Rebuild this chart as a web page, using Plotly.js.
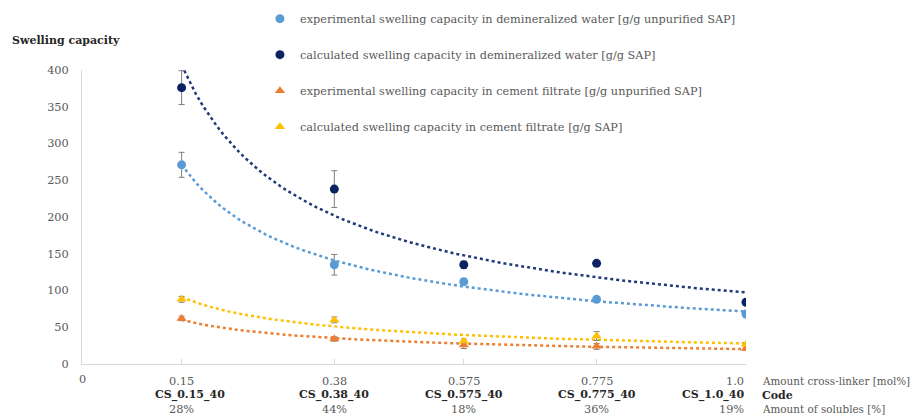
<!DOCTYPE html>
<html>
<head>
<meta charset="utf-8">
<script src="https://cdn.plot.ly/plotly-3.0.1.min.js"></script>
<style>html,body{margin:0;padding:0;background:#fff;}#chart{width:920px;height:417px;}</style>
</head>
<body>
<div id="chart"></div>
<script>
// ---- data ----
const crossLinker = [0.15, 0.38, 0.575, 0.775, 1.0];
const crossLinkerLabels = ["0.15", "0.38", "0.575", "0.775", "1.0"];
const codes = ["CS_0.15_40", "CS_0.38_40", "CS_0.575_40", "CS_0.775_40", "CS_1.0_40"];
const solubles = ["28%", "44%", "18%", "36%", "19%"];

const expWater = [271, 135, 112, 88, 68];
const expWaterErr = [17, 14, 4, 3, 2];
const calcWater = [376, 238, 135, 137, 84];
const calcWaterErr = [23, 25, 5, 0, 0];
const expCement = [62, 34, 26, 24, 21];
const expCementErr = [3, 3, 5, 4, 2];
const calcCement = [88, 60, 31, 38, 27];
const calcCementErr = [4, 4, 3, 6, 2];

const seriesNames = [
  "experimental swelling capacity in demineralized water [g/g unpurified SAP]",
  "calculated swelling capacity in demineralized water [g/g SAP]",
  "experimental swelling capacity in cement filtrate [g/g unpurified SAP]",
  "calculated swelling capacity in cement filtrate [g/g SAP]"
];

// ---- power trendline (least squares in log-log, like Excel) ----
function powerFit(xs, ys) {
  const lx = xs.map(Math.log), ly = ys.map(Math.log);
  const n = xs.length;
  const mx = lx.reduce((a, b) => a + b, 0) / n, my = ly.reduce((a, b) => a + b, 0) / n;
  let sxy = 0, sxx = 0;
  for (let i = 0; i < n; i++) { sxy += (lx[i] - mx) * (ly[i] - my); sxx += (lx[i] - mx) ** 2; }
  const b = sxy / sxx, a = Math.exp(my - b * mx);
  const tx = [], ty = [];
  const x0 = xs[0], x1 = xs[n - 1];
  for (let k = 0; k <= 80; k++) { const x = x0 + (x1 - x0) * k / 80; tx.push(x); ty.push(a * Math.pow(x, b)); }
  return {x: tx, y: ty};
}

const colors = ["#5B9BD5", "#0A2463", "#ED7D31", "#FFC000"];
const lineColors = ["#5B9BD5", "#1F3A78", "#ED7D31", "#FFC000"];
const ys = [expWater, calcWater, expCement, calcCement];
const errs = [expWaterErr, calcWaterErr, expCementErr, calcCementErr];
const symbols = ["circle", "circle", "triangle-up", "triangle-up"];

const traces = [];
for (let i = 0; i < 4; i++) {
  const f = powerFit(crossLinker, ys[i]);
  traces.push({x: f.x, y: f.y, type: "scatter", mode: "lines", showlegend: false, hoverinfo: "skip",
    line: {color: lineColors[i], width: 2.5, dash: "dot"}});
}
for (let i = 0; i < 4; i++) {
  traces.push({x: crossLinker, y: ys[i], type: "scatter", mode: "markers", name: seriesNames[i],
    legendgroup: "g" + i,
    marker: {color: colors[i], size: 9, symbol: symbols[i]},
    error_y: {type: "data", array: errs[i], visible: true, color: "#7F7F7F", thickness: 1, width: 3}});
}

const serif = "DejaVu Serif";
const fs = 11.3;
const fsSide = 10.4;
const grey = "#595959";
const dark = "#262626";
const annotations = [];
annotations.push({text: "<b>Swelling capacity</b>", xref: "paper", yref: "paper", x: -0.1084, y: 1.102,
  xanchor: "left", yanchor: "middle", showarrow: false, font: {family: serif, size: 11, color: dark}});
annotations.push({text: "0", xref: "x", yref: "paper", x: 0, y: 0, yshift: -15, xanchor: "center", yanchor: "middle",
  showarrow: false, font: {family: serif, size: fs, color: grey}});
for (let i = 0; i < crossLinker.length; i++) {
  const last = i === crossLinker.length - 1;
  const xa = last ? "right" : "center";
  annotations.push({text: crossLinkerLabels[i], xref: "x", yref: "paper", x: crossLinker[i], y: 0, yshift: -17,
    xanchor: xa, yanchor: "middle", showarrow: false, font: {family: serif, size: fs, color: grey}});
  annotations.push({text: "<b>" + codes[i] + "</b>", xref: "x", yref: "paper", x: crossLinker[i], y: 0, yshift: -31,
    xshift: i === 0 ? 8 : 0, xanchor: xa, yanchor: "middle", showarrow: false, font: {family: serif, size: 11, color: dark}});
  annotations.push({text: solubles[i], xref: "x", yref: "paper", x: crossLinker[i], y: 0, yshift: -45,
    xanchor: xa, yanchor: "middle", showarrow: false, font: {family: serif, size: fs, color: grey}});
}
annotations.push({text: "Amount cross-linker [mol%]", xref: "paper", yref: "paper", x: 1, xshift: 14, y: 0, yshift: -17,
  xanchor: "left", yanchor: "middle", showarrow: false, font: {family: serif, size: fsSide, color: grey}});
annotations.push({text: "<b>Code</b>", xref: "paper", yref: "paper", x: 1, xshift: 14, y: 0, yshift: -31,
  xanchor: "left", yanchor: "middle", showarrow: false, font: {family: serif, size: 11, color: dark}});
annotations.push({text: "Amount of solubles [%]", xref: "paper", yref: "paper", x: 1, xshift: 14, y: 0, yshift: -45,
  xanchor: "left", yanchor: "middle", showarrow: false, font: {family: serif, size: fsSide, color: grey}});

const layout = {
  width: 920, height: 417,
  margin: {l: 82, r: 174, t: 70, b: 53, pad: 0, autoexpand: false},
  paper_bgcolor: "#ffffff", plot_bgcolor: "#ffffff",
  font: {family: serif, size: fs, color: grey},
  xaxis: {range: [0, 1.0], showgrid: false, zeroline: false, showline: true, linecolor: "#D9D9D9", linewidth: 1,
    tickvals: crossLinker, ticks: "inside", ticklen: 5, tickcolor: "#D9D9D9", showticklabels: false, fixedrange: true},
  yaxis: {range: [0, 400], dtick: 50, showgrid: false, zeroline: false, showline: true, linecolor: "#D9D9D9", linewidth: 1,
    ticks: "", ticklabelstandoff: 10, tickfont: {family: serif, size: fs, color: grey}, fixedrange: true},
  legend: {x: 0.268, y: 1.224, xanchor: "left", yanchor: "top", orientation: "v",
    tracegroupgap: 17, bgcolor: "rgba(0,0,0,0)", font: {family: serif, size: fs, color: grey}, itemwidth: 30},
  showlegend: true,
  annotations: annotations
};

Plotly.newPlot("chart", traces, layout, {displayModeBar: false, staticPlot: true});
</script>
</body>
</html>
